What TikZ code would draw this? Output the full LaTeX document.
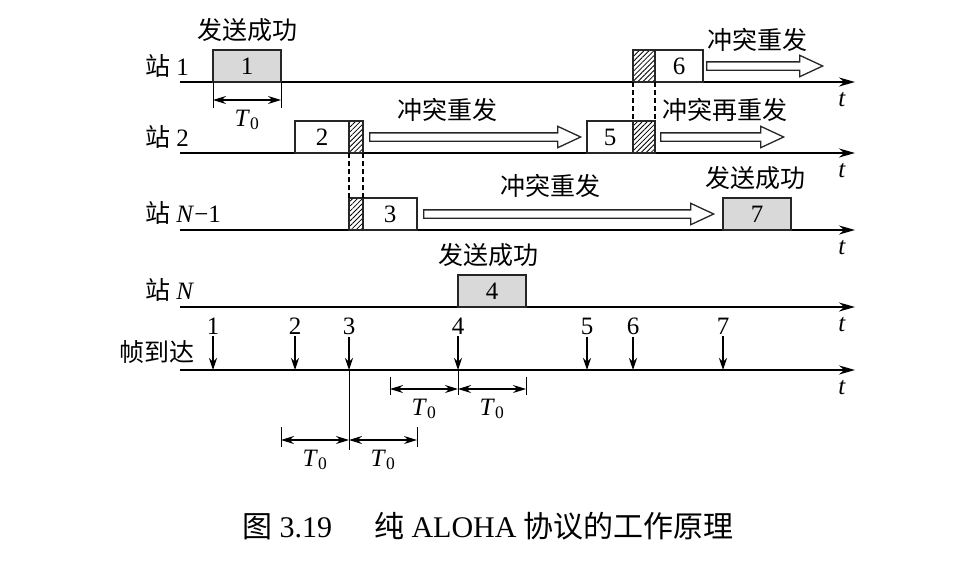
\documentclass[tikz,border=0pt]{standalone}
\usepackage{fontspec}
\setmainfont{Liberation Serif}
\newfontfamily\zhfont{Noto Sans CJK SC}
\newcommand{\zh}[1]{{\zhfont #1}}
\usetikzlibrary{arrows.meta,patterns.meta,shapes.arrows}

\begin{document}
\begin{tikzpicture}[x=1pt, y=-1pt,
      every node/.style={font=\fontsize{25}{28}\selectfont, inner sep=0pt},
      axis/.style={line width=1.8pt, -{Stealth[length=16pt, width=9pt]}},
      frame/.style={rectangle, draw=black!85, line width=1.5pt, anchor=south west, outer sep=0pt, minimum height=32pt},
      ok/.style={frame, fill=black!15},
      bad/.style={frame, fill=white},
      hatch/.style={frame, pattern={Lines[angle=45, distance=3.5pt, line width=0.8pt]}},
      retry/.style={single arrow, draw=black!85, line width=1.3pt, anchor=tail, inner sep=0pt, inner ysep=3.5pt, single arrow head extend=6.5pt, single arrow tip angle=50},
      link/.style={line width=1.2pt, dash pattern=on 5pt off 3pt},
      arrive/.style={line width=1.5pt, -{Stealth[length=12pt, width=8pt]}},
      span/.style={line width=1.3pt, {Stealth[length=13pt, width=8pt]}-{Stealth[length=13pt, width=8pt]}},
      tick/.style={line width=1pt}
  ]
    \useasboundingbox (0,0) rectangle (969,571);

    \foreach \n/\y in {s1/82, s2/153, s3/230, s4/307, fa/370} {
      \draw[axis] (180,\y) coordinate (\n) -- (855,\y) coordinate (\n e);
      \node (t\n) at (842,{\y+18}) {\textit{t}};
    }

    \node[anchor=west] (n1) at (145,66) {\zh{站} 1};
    \node[anchor=west] (n2) at (145,137) {\zh{站} 2};
    \node[anchor=west] (n3) at (145,213) {\zh{站} \textit{N}−1};
    \node[anchor=west] (n4) at (145,290) {\zh{站} \textit{N}};
    \node (nfa) at (157,352) {\zh{帧到达}};

    \node[ok, minimum width=68pt] (f1) at (213,82) {1};
    \node[bad, minimum width=54pt] (f2) at (295,153) {2};
    \node[hatch, minimum width=14pt] (c2) at (f2.south east) {};
    \node[hatch, minimum width=14pt] (c3) at (349,230) {};
    \node[bad, minimum width=54pt] (f3) at (c3.south east) {3};
    \node[ok, minimum width=68pt] (f4) at (458,307) {4};
    \node[bad, minimum width=46pt] (f5) at (587,153) {5};
    \node[hatch, minimum width=22pt] (c5) at (f5.south east) {};
    \node[hatch, minimum width=22pt] (c6) at (633,82) {};
    \node[bad, minimum width=48pt] (f6) at (c6.south east) {6};
    \node[ok, minimum width=68pt] (f7) at (723,230) {7};

    \draw[link] (c2.south west) -- (c3.north west);
    \draw[link] (c2.south east) -- (c3.north east);
    \draw[link] (c6.south west) -- (c5.north west);
    \draw[link] (c6.south east) -- (c5.north east);

    \node[retry, minimum height=116pt] (r6) at (706,66) {};
    \node[retry, minimum height=211pt] (r2) at (369,137) {};
    \node[retry, minimum height=123pt] (r5) at (660,137) {};
    \node[retry, minimum height=290pt] (r3) at (423,214) {};

    \node (l6) at (757,40) {\zh{冲突重发}};
    \node (l2) at (447,110) {\zh{冲突重发}};
    \node (l5) at (725,110) {\zh{冲突再重发}};
    \node (l3) at (550,186) {\zh{冲突重发}};
    \node (ok1) at (247,30) {\zh{发送成功}};
    \node (ok4) at (488,255) {\zh{发送成功}};
    \node (ok7) at (755,178) {\zh{发送成功}};

    \foreach \k/\x in {1/213, 2/295, 3/349, 4/458, 5/587, 6/633, 7/723} {
      \node (a\k) at (\x,326) {\k};
      \draw[arrive] ([yshift=-2pt]a\k.south) -- (a\k.south |- fa);
    }

    \draw[tick] (f1.south west) -- ++(0,26);
    \draw[tick] (f1.south east) -- ++(0,26);
    \draw[span] ([yshift=-18pt]f1.south west) -- node[below=9pt] {\textit{T}\textsubscript{0}} ([yshift=-18pt]f1.south east);

    \coordinate (u0) at (390,389);
    \coordinate (u1) at (458,389);
    \coordinate (u2) at (526,389);
    \draw[tick] (a4.south |- fa) -- ([yshift=-6pt]u1);
    \draw[tick] ([yshift=12pt]u0) -- ([yshift=-6pt]u0);
    \draw[tick] ([yshift=12pt]u2) -- ([yshift=-6pt]u2);
    \draw[span] (u0) -- node[below=9pt] {\textit{T}\textsubscript{0}} (u1);
    \draw[span] (u1) -- node[below=9pt] {\textit{T}\textsubscript{0}} (u2);

    \coordinate (v0) at (281,440);
    \coordinate (v1) at (349,440);
    \coordinate (v2) at (417,440);
    \draw[tick] (a3.south |- fa) -- ([yshift=-10pt]v1);
    \draw[tick] ([yshift=13pt]v0) -- ([yshift=-7pt]v0);
    \draw[tick] ([yshift=13pt]v2) -- ([yshift=-7pt]v2);
    \draw[span] (v0) -- node[below=9pt] {\textit{T}\textsubscript{0}} (v1);
    \draw[span] (v1) -- node[below=9pt] {\textit{T}\textsubscript{0}} (v2);

    \node (cap) at (488,526) {\fontsize{30}{33}\selectfont\zh{图} 3.19\hspace{1.4em}\zh{纯} ALOHA \zh{协议的工作原理}};
  \end{tikzpicture}
\end{document}
